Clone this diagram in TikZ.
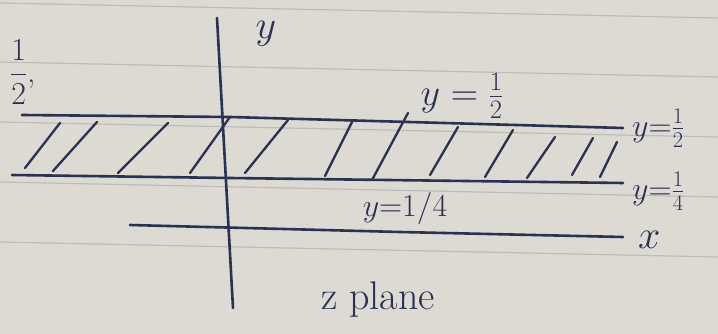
\RequirePackage{fix-cm}
\documentclass[tikz,border=0pt]{standalone}
\usepackage{amsmath}
\definecolor{paper}{HTML}{DCDAD3}
\definecolor{rule}{HTML}{BEBCB6}
\definecolor{ink}{HTML}{2B3152}
\tikzset{
  inkline/.style={draw=ink, line width=2.6pt, line cap=round},
  hatchline/.style={draw=ink, line width=2.3pt, line cap=round},
  ruleline/.style={draw=rule, line width=1.2pt},
  lbl/.style={text=ink, inner sep=0pt, font=\fontsize{32}{36}\selectfont},
  toplbl/.style={text=ink, inner sep=0pt, font=\fontsize{38}{42}\selectfont},
  biglbl/.style={text=ink, inner sep=0pt, font=\fontsize{40}{44}\selectfont},
}
\begin{document}
\begin{tikzpicture}[x=1pt,y=-1pt]
\fill[paper] (0,0) rectangle (718,334);
\useasboundingbox (0,0) rectangle (718,334);
% notebook rules
\foreach \r in {3,62,122,182,242}{
  \draw[ruleline] (0,\r) -- (718,\r+15);
}
% coordinates
\coordinate (ytop) at (217,18);
\coordinate (ybot) at (233,308);
\coordinate (hL) at (22,115);
\coordinate (hM) at (230,117);
\coordinate (hR) at (623,128);
\coordinate (qL) at (12,175);
\coordinate (qM) at (230,178);
\coordinate (qR) at (623,183);
\coordinate (xL) at (130,225);
\coordinate (xM) at (400,232);
\coordinate (xR) at (623,237);
% axes and lines
\draw[inkline] (ytop) -- (ybot);
\draw[inkline] (hL) -- (hM) -- (hR);
\draw[inkline] (qL) -- (qM) -- (qR);
\draw[inkline] (xL) -- (xM) -- (xR);
% hatching
\foreach \bx/\by/\tx/\ty [count=\i] in {25/168/60/123, 53/171/97/122, 118/173/168/123,
  190/173/230/117, 245/173/288/120, 325/176/353/120, 372/180/408/113,
  430/175/458/127, 485/177/513/130, 527/178/555/137, 572/175/593/138, 600/177/617/142}{
  \coordinate (hb\i) at (\bx,\by);
  \coordinate (ht\i) at (\tx,\ty);
  \draw[hatchline] (hb\i) -- (ht\i);
}
% labels
\node[biglbl] (ylab) at (266,34) {$y$};
\node[lbl, anchor=west] (half) at (10,72) {$\displaystyle\frac{1}{2}$,};
\node[toplbl] (topl) at (462,96) {$y = \frac{1}{2}$};
\node[lbl, anchor=west] (rhalf) at (632,128) {$y{=}\frac{1}{2}$};
\node[lbl, anchor=west] (rquar) at (632,191) {$y{=}\frac{1}{4}$};
\node[lbl] (botl) at (405,208) {$y{=}1/4$};
\node[biglbl, anchor=west] (xlab) at (638,240) {$x$};
\node[biglbl] (zpl) at (378,300) {z plane};
\end{tikzpicture}
\end{document}
